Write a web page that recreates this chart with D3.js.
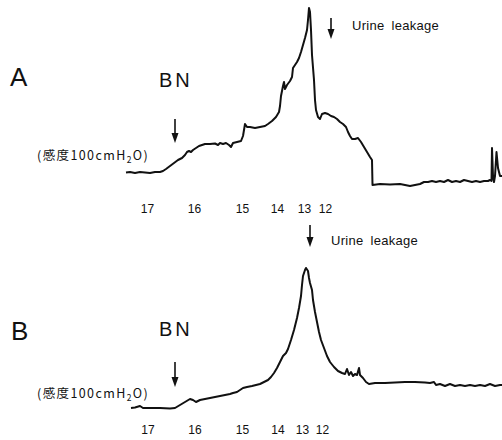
<!DOCTYPE html>
<html>
<head>
<meta charset="utf-8">
<script src="https://cdn.jsdelivr.net/npm/d3@7"></script>
<style>
  body { margin: 0; background: #fff; }
  text { font-family: "Liberation Sans", Arial, sans-serif; fill: #111; }
</style>
</head>
<body>
<div class="chart"></div>
<script>
// level labels under each trace
let levelLabels = ["17", "16", "15", "14", "13", "12"];
let levelPosA = [21.5, 68.5, 116.5, 151.5, 178.5, 199.5];
let levelPosB = [22, 69, 116.5, 152, 176.5, 196.5];

// trace A (time, pressure)
let timeA = [0,4,9,14,19,24,29,34,37,40,44,48,52,56,59,61,63,65,67,70,73,76,79,84,89,92,94,97,100,103,105,107,111,115,117,119,121,124,129,134,139,142,146,150,153,154,155,157,158,159,161,164,166,167,169,171,173,175,177,179,181,182,183,184,185,186,188,189,190,192,194,196,199,202,205,208,211,214,217,220,222,224,226,229,232,235,238,241,244,246,246.5,254,264,274,279,284,289,294,298,302,306,310,314,318,322,326,330,334,338,342,346,350,354,358,362,364,365.5,366,367,368,369,370.5,372,374,376];
let pressA = [17.5,18,17,18,17.5,17,18,18,19,21,24,27,30,32,35,38,39,38,40,42,44,45,46,46,46.5,45,47,46,47,45,43,47,48,49,54,66,63,63,62,63,64,66,69,73,78,84,94,104,108,101,105,109,113,122,125,128,132,138,145,152,160,170,182,178,160,135,110,90,80,73,71,76,77,76,74,73,71,68,66,63,58,54,51,51,52,48,43,38,33,30,5,6,5.5,6,5,4,5,6,8,8,9,8,9,8,10,8,9,8,10,9,8,9,8,9,9,10,9,42,14,8,14,38,22,14,14];

// trace B (time, pressure)
let timeB = [5,9,14,17,24,34,44,49,54,59,64,67,70,74,79,84,89,94,99,104,107,111,114,117,121,126,130,134,138,142,145,148,151,154,157,160,162,165,168,171,173,175,176,177,179,180,182,183,184,186,187,189,191,193,195,198,201,204,208,212,216,219,221,223,225,227,229,231,233,234,237,240,243,249,259,269,279,289,299,304,308,310,314,319,324,329,334,339,344,349,354,359,364,369,374,376];
let pressB = [4,4.5,6,4,4,4,3.5,4,7,10,13,12,10,12,13,14,15,16,17,18,19,20,22,24,25,26,27,28,30,32,35,39,44,50,56,59,63,72,82,94,104,116,127,136,142,144,141,134,129,122,112,100,90,80,72,64,56,50,45,41,39,38,43,37,40,36,38,37,44,37,34,30,28,29,29,29.5,30,30,29.5,29,30,27,28,26,28,26,27,26,27,26,27,26,28,26,27,27];

let width = 502;
let height = 440;

let svg = d3.select(".chart")
  .append("svg")
  .attr("width", width)
  .attr("height", height)
  .style("background", "#fff");

let x = d3.scaleLinear().domain([0, 376]).range([126, 502]);

let line = function(yScale) {
  return d3.line()
    .x(function(d) { return x(d[0]); })
    .y(function(d) { return yScale(d[1]); });
};

function arrow(g, ax, y1, y2) {
  g.append("line")
    .attr("x1", ax).attr("x2", ax)
    .attr("y1", y1).attr("y2", y2 - 8)
    .attr("stroke", "#111")
    .attr("stroke-width", 1.6);
  g.append("path")
    .attr("d", "M" + (ax - 3.5) + "," + (y2 - 10) + "L" + (ax + 3.5) + "," + (y2 - 10) + "L" + ax + "," + y2 + "Z")
    .attr("fill", "#111");
}

function drawPanel(p) {
  let g = svg.append("g");
  let y = d3.scaleLinear().domain([0, 180]).range([p.base, p.base - 180]);

  g.append("text")
    .attr("x", p.letterX).attr("y", p.letterY)
    .attr("font-size", 26)
    .text(p.letter);

  g.append("text")
    .attr("x", 159).attr("y", p.bnY)
    .attr("font-size", 20)
    .attr("letter-spacing", 3)
    .text("BN");

  arrow(g, x(49), p.bnArrow[0], p.bnArrow[1]);

  let unit = g.append("text")
    .attr("x", 37).attr("y", p.unitY)
    .attr("font-size", 12.5)
    .attr("letter-spacing", 1.4)
    .style("font-family", "'Noto Sans CJK JP', sans-serif");
  unit.append("tspan").text("(感度100cmH");
  unit.append("tspan").attr("font-size", 8.5).attr("dy", 2.5).text("2");
  unit.append("tspan").attr("dy", -2.5).text("O)");

  arrow(g, x(p.leakT), p.leakArrow[0], p.leakArrow[1]);

  g.append("text")
    .attr("x", x(p.leakT) + 21).attr("y", p.leakY)
    .attr("font-size", 13)
    .attr("word-spacing", 3)
    .attr("letter-spacing", 0.3)
    .text("Urine leakage");

  g.append("path")
    .datum(d3.zip(p.time, p.press))
    .attr("d", line(y))
    .attr("fill", "none")
    .attr("stroke", "#111")
    .attr("stroke-width", 2)
    .attr("stroke-linejoin", "round");

  g.selectAll(".lvl")
    .data(levelLabels)
    .enter().append("text")
    .attr("class", "lvl")
    .attr("x", function(d, i) { return x(p.levels[i]); })
    .attr("y", p.levelY)
    .attr("text-anchor", "middle")
    .attr("font-size", 12)
    .text(String);
}

drawPanel({
  letter: "A", letterX: 10, letterY: 86,
  bnY: 87, bnArrow: [119, 143],
  unitY: 160,
  leakT: 205, leakArrow: [18, 39], leakY: 30,
  base: 190, time: timeA, press: pressA,
  levels: levelPosA, levelY: 213
});

drawPanel({
  letter: "B", letterX: 11, letterY: 340,
  bnY: 336, bnArrow: [362, 387],
  unitY: 398,
  leakT: 184, leakArrow: [225, 247], leakY: 245,
  base: 412, time: timeB, press: pressB,
  levels: levelPosB, levelY: 434
});
</script>
</body>
</html>
